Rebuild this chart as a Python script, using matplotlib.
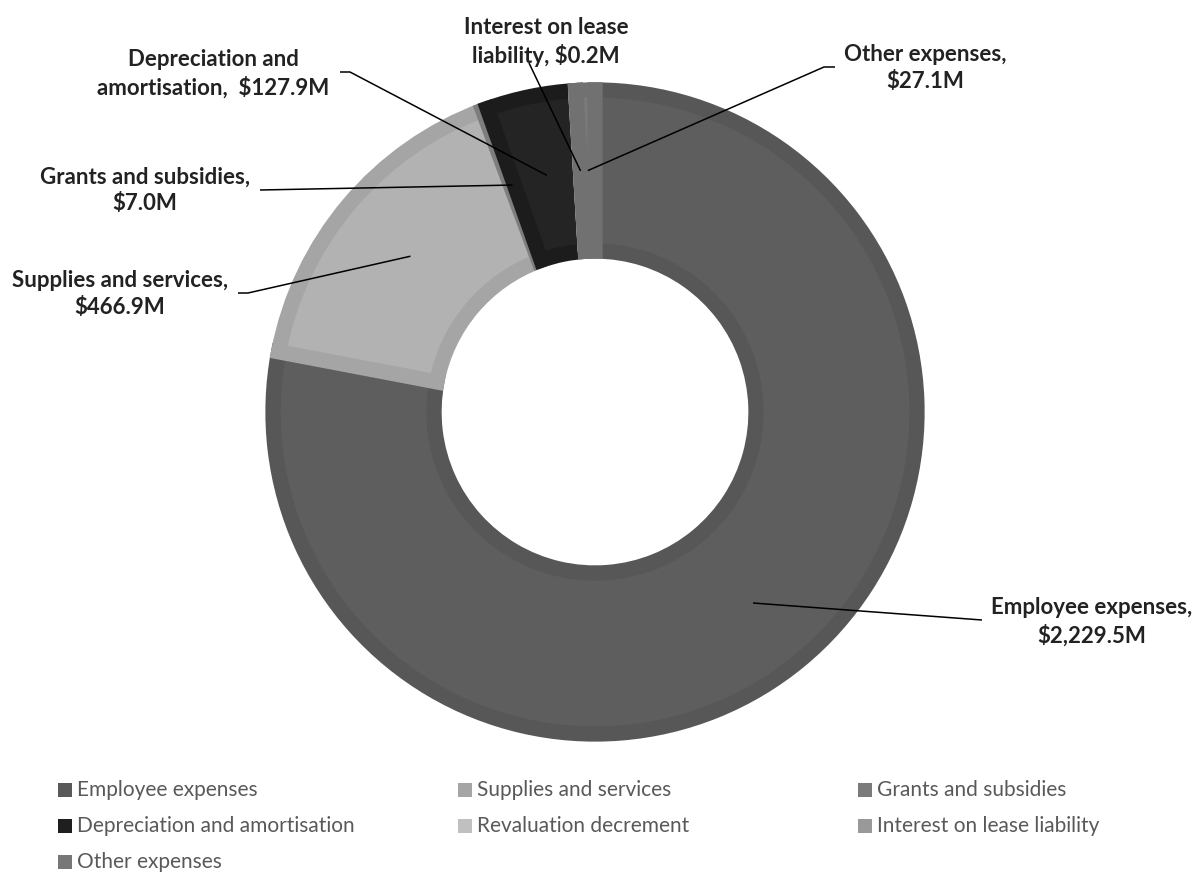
import numpy as np
import matplotlib
matplotlib.use("Agg")
import matplotlib.pyplot as plt
from matplotlib.patches import Rectangle

# ---- data ----
categories = ["Employee expenses", "Supplies and services", "Grants and subsidies",
              "Depreciation and amortisation", "Revaluation decrement",
              "Interest on lease liability", "Other expenses"]
values = [2229.5, 466.9, 7.0, 127.9, 0.0, 0.2, 27.1]
label_texts = ["Employee expenses,\n$2,229.5M", "Supplies and services,\n$466.9M",
               "Grants and subsidies,\n$7.0M", "Depreciation and\namortisation,  $127.9M",
               None, "Interest on lease\nliability, $0.2M", "Other expenses,\n$27.1M"]

# ---- styles ----
fill_colors = ["#5e5e5e", "#b2b2b2", "#8a8a8a", "#242424", "#c9c9c9", "#a0a0a0", "#7b7b7b"]
edge_colors = ["#575757", "#a5a5a5", "#7e7e7e", "#1c1c1c", "#bdbdbd", "#969696", "#717171"]
legend_colors = ["#595959", "#a5a5a5", "#7b7b7b", "#1f1f1f", "#c0c0c0", "#999999", "#777777"]

W, H = 1204, 872
fig = plt.figure(figsize=(W / 100, H / 100), dpi=100)
ax = fig.add_axes([0, 0, 1, 1])

CX, CY, R = 595, H - 412, 322

def P(x, y):
    return (x, H - y)

wedges, _ = ax.pie(values, startangle=90, counterclock=False, colors=fill_colors,
                   radius=R, center=(CX, CY),
                   wedgeprops=dict(width=0.5 * R, linewidth=0))
for w, ec in zip(wedges, edge_colors):
    w.set_edgecolor(ec)
    w.set_linewidth(11)
    w.set_joinstyle("miter")
    w.set_clip_path(w)

ax.set_xlim(0, W)
ax.set_ylim(0, H)
ax.set_aspect("auto")
ax.axis("off")

# ---- data labels (layout positions in pixels) ----
label_pos = [(1092, 622), (120, 294), (145, 190), (213, 74), None, (546, 42), (925, 68)]
leader_start = [[(982, 620)], [(238, 293), (248, 293)], [(260, 190)],
                [(340, 72), (350, 72)], None, [(529, 63)], [(835, 67), (824, 67)]]
tip_r = [0.77, 0.75, 0.75, 0.75, 0.75, 0.75, 0.75]

lab_font = ["Lato", "DejaVu Sans"]
for i, w in enumerate(wedges):
    if label_texts[i] is None:
        continue
    mid = np.deg2rad((w.theta1 + w.theta2) / 2)
    tip = (CX + tip_r[i] * R * np.cos(mid), CY + tip_r[i] * R * np.sin(mid))
    pts = [P(*p) for p in leader_start[i]] + [tip]
    xs, ys = zip(*pts)
    ax.plot(xs, ys, color="black", lw=1.1, solid_capstyle="butt", zorder=5)
    tx, ty = P(*label_pos[i])
    ax.text(tx, ty, label_texts[i], ha="center", va="center", multialignment="center",
            fontsize=16, fontweight="bold", color="#222222", family=lab_font,
            linespacing=1.32, zorder=6)

# ---- legend ----
col_x = [58, 458, 858]
row_y = [790, 826, 862]
for i, (name, c) in enumerate(zip(categories, legend_colors)):
    x = col_x[i % 3]
    y = row_y[i // 3]
    ax.add_patch(Rectangle(P(x, y + 7), 14, 14, facecolor=c, edgecolor="none"))
    ax.text(*P(x + 19, y), name, ha="left", va="center", fontsize=15,
            color="#595959", family=lab_font)

fig.savefig("out.png", dpi=100)
